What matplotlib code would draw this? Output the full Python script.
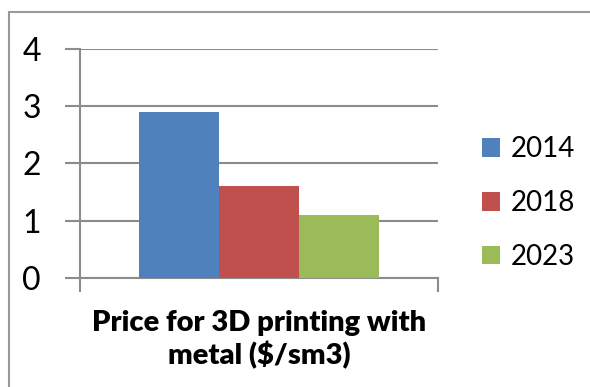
import matplotlib
matplotlib.use("Agg")
import matplotlib.pyplot as plt
from matplotlib.patches import Rectangle

# Price per unit volume for metal 3D printing, by year
years = ["2014", "2018", "2023"]
prices = [2.9, 1.6, 1.1]
colors = ["#4F81BD", "#C0504D", "#9BBB59"]
category = "Price for 3D printing with\nmetal ($/sm3)"
yticks = [0, 1, 2, 3, 4]

plt.rcParams["font.family"] = ["Lato", "DejaVu Sans"]
grid_grey = "#8C8C8C"

W, H = 590, 387
fig = plt.figure(figsize=(W / 100, H / 100), dpi=100)

# outer chart frame (top and left edges visible, the rest runs off the canvas)
fig.patches.append(Rectangle((9 / W, -0.1), 1.2, 1 - 12 / H + 0.1,
                             transform=fig.transFigure, fill=False,
                             edgecolor="#9A9A9A", linewidth=1.5))

ax = fig.add_axes([80 / W, 1 - 277.7 / H, (438 - 80) / W, (277.7 - 49) / H])

bar_w = 0.223
for i, (yr, val, col) in enumerate(zip(years, prices, colors)):
    ax.bar((i - 1) * bar_w, val, width=bar_w, color=col, label=yr, zorder=3)

ax.set_xlim(-0.5, 0.5)
ax.set_ylim(0, 4)
ax.set_yticks(yticks)
ax.set_yticklabels([str(t) for t in yticks])
ax.yaxis.grid(True, color=grid_grey, linewidth=1.5, zorder=0)
ax.tick_params(axis="y", length=11, width=1.5, color=grid_grey, pad=17,
               labelsize=23, direction="out")

ax.set_xticks([-0.5, 0.5])
ax.set_xticklabels([])
ax.tick_params(axis="x", length=10, width=1.5, color=grid_grey, direction="out")
ax.set_xlabel(category, fontsize=21, fontweight="heavy", labelpad=10,
              linespacing=1.2)

for side in ["top", "right"]:
    ax.spines[side].set_visible(False)
for side in ["left", "bottom"]:
    ax.spines[side].set_color(grid_grey)
    ax.spines[side].set_linewidth(1.5)

fig.legend(loc="center left", bbox_to_anchor=(482 / W, 1 - 203 / H),
           frameon=False, fontsize=20, handlelength=0.65, handleheight=0.65,
           handletextpad=0.4, labelspacing=1.0, borderpad=0,
           borderaxespad=0)

fig.savefig("out.png", dpi=100)
